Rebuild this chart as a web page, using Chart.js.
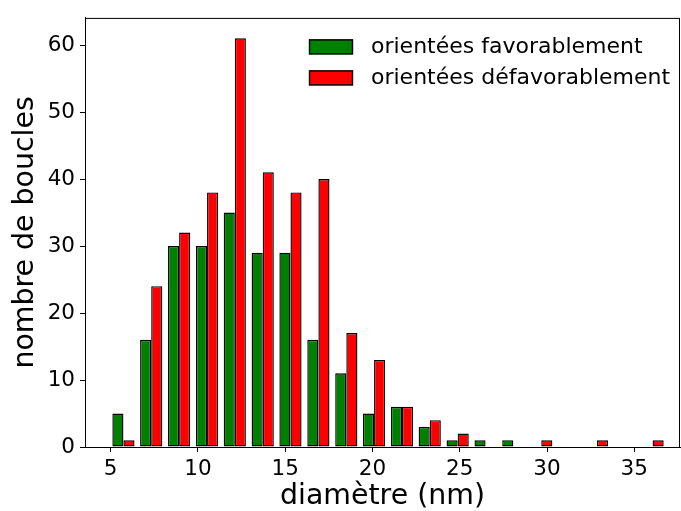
<!DOCTYPE html>
<html>
<head>
<meta charset="utf-8">
<script src="https://cdn.jsdelivr.net/npm/chart.js@4.4.1/dist/chart.umd.min.js"></script>
<style>
  body { margin: 0; background: #fff; }
  canvas { display: block; }
</style>
</head>
<body>
<canvas id="myChart" width="681" height="511"></canvas>
<script>
// bin centres (nm) and counts per bin
const binCentres = [5.73, 7.32, 8.92, 10.52, 12.11, 13.71, 15.30, 16.90, 18.50, 20.09,
                    21.69, 23.28, 24.88, 26.48, 28.07, 29.67, 31.26, 32.86, 34.46, 36.05];
const favorables = [5, 16, 30, 30, 35, 29, 29, 16, 11, 5, 6, 3, 1, 1, 1, 0, 0, 0, 0, 0];
const defavorables = [1, 24, 32, 38, 61, 41, 38, 40, 17, 13, 6, 4, 2, 0, 0, 1, 0, 1, 0, 1];
const xTicks = [5, 10, 15, 20, 25, 30, 35];
const yTicks = [0, 10, 20, 30, 40, 50, 60];

const tickFont = { family: 'DejaVu Sans', size: 21.5 };
const titleFont = { family: 'DejaVu Sans', size: 28.4, lineHeight: 1 };

// box around the plot + legend inside the axes
const framePlugin = {
    id: 'frame',
    afterDraw(chart) {
        const ctx = chart.ctx;
        const a = chart.chartArea;
        ctx.save();
        ctx.strokeStyle = '#000';
        ctx.lineWidth = 1;
        ctx.strokeRect(a.left + 0.5, a.top + 0.5, a.right - a.left - 1, a.bottom - a.top);

        const boxX = a.right - 371;
        const textX = boxX + 62;
        ctx.font = '22px "DejaVu Sans"';
        ctx.textBaseline = 'middle';
        chart.data.datasets.forEach((ds, i) => {
            const y = a.top + 21.5 + i * 31;
            ctx.fillStyle = ds.backgroundColor;
            ctx.fillRect(boxX, y, 44, 15);
            ctx.strokeStyle = '#000';
            ctx.lineWidth = 1.4;
            ctx.strokeRect(boxX + 0.5, y + 0.5, 43, 14);
            ctx.fillStyle = '#000';
            ctx.fillText(ds.label, textX, y + 8);
        });
        ctx.restore();
    }
};

new Chart(document.getElementById('myChart'), {
    type: 'bar',
    data: {
        datasets: [{
            label: 'orientées favorablement',
            data: binCentres.map((x, i) => ({ x: x, y: favorables[i] })),
            backgroundColor: '#008000',
            borderColor: '#000',
            borderWidth: 1.4,
            borderSkipped: false
        }, {
            label: 'orientées défavorablement',
            data: binCentres.map((x, i) => ({ x: x, y: defavorables[i] })),
            backgroundColor: '#ff0000',
            borderColor: '#000',
            borderWidth: 1.4,
            borderSkipped: false
        }]
    },
    options: {
        responsive: false,
        animation: false,
        categoryPercentage: 0.8,
        barPercentage: 1.0,
        layout: { padding: { top: 17, right: 1, left: 0, bottom: 0 } },
        plugins: {
            legend: { display: false },
            tooltip: { enabled: false }
        },
        scales: {
            x: {
                type: 'linear',
                offset: false,
                min: 3.527,
                max: 37.62,
                afterBuildTicks: (scale) => { scale.ticks = xTicks.map(v => ({ value: v })); },
                afterFit: (scale) => { scale.height = 64; },
                ticks: { font: tickFont, color: '#000', padding: 5, maxRotation: 0 },
                grid: { offset: false, drawOnChartArea: false, drawTicks: true, tickLength: 5, tickColor: '#000' },
                border: { color: '#000', width: 1 },
                title: { display: true, text: 'diamètre (nm)', font: titleFont, color: '#000', padding: { top: 0, bottom: 0.6 } }
            },
            y: {
                min: 0,
                max: 64.05,
                afterBuildTicks: (scale) => { scale.ticks = yTicks.map(v => ({ value: v })); },
                afterFit: (scale) => { scale.width = 85; },
                ticks: { font: tickFont, color: '#000', padding: 5 },
                grid: { drawOnChartArea: false, drawTicks: true, tickLength: 5, tickColor: '#000' },
                border: { color: '#000', width: 1 },
                title: { display: true, text: 'nombre de boucles', font: titleFont, color: '#000', padding: { top: 11.8, bottom: 0 } }
            }
        }
    },
    plugins: [framePlugin]
});
</script>
</body>
</html>
